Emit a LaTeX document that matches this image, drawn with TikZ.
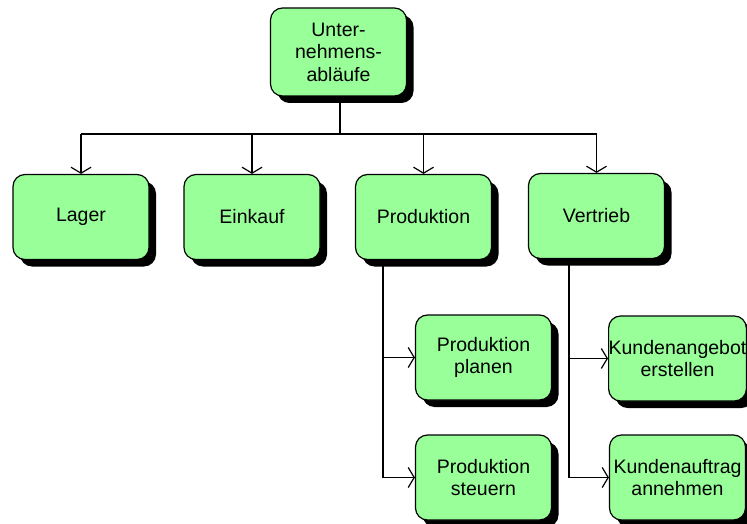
\documentclass[tikz,border=0pt]{standalone}
\usepackage{fontspec}
\setmainfont{Liberation Sans}
\usetikzlibrary{arrows.meta,shadows}

\definecolor{boxgreen}{HTML}{99FF99}

\tikzset{
  procbox/.style={
    draw=black, line width=1.2pt, fill=boxgreen, rounded corners=12pt,
    minimum width=136pt, minimum height=85pt, inner sep=0pt,
    align=center, font=\fontsize{19.5}{22.5}\selectfont,
    drop shadow={shadow xshift=7pt, shadow yshift=-7pt, fill=black, opacity=1}
  },
  link/.style={draw=black, line width=1.2pt},
  arrowlink/.style={link, -{Straight Barb[length=6pt,width=20pt,line width=1.2pt]}}
}

\begin{document}
\begin{tikzpicture}[x=1pt,y=-1pt]
  \useasboundingbox (0,0) rectangle (747,524);

  % root
  \node[procbox, minimum height=88pt] (root) at (338.5,52) {Unter-\\nehmens-\\abläufe};

  % first level
  \node[procbox] (lager)  at (81,217)  {Lager};
  \node[procbox] (ek)     at (252,217) {Einkauf};
  \node[procbox] (prod)   at (423.5,217) {Produktion};
  \node[procbox] (vt)     at (596.5,216) {Vertrieb};

  % second level
  \node[procbox] (pplan)  at (483.5,357.5) {Produktion\\planen};
  \node[procbox] (psteu)  at (483.5,477.5) {Produktion\\steuern};
  \node[procbox] (kang)   at (677.5,358.5) {Kundenangebot\\erstellen};
  \node[procbox] (kauf)   at (677.5,477.5) {Kundenauftrag\\annehmen};

  % tree from the root
  \coordinate (bus) at (340,134);
  \draw[link] (root.south -| bus) -- (bus);
  \draw[link] (lager.north |- bus) -- (vt.north |- bus);
  \foreach \n in {lager, ek, prod, vt}
    \draw[arrowlink] (\n.north |- bus) -- (\n.north);

  % Produktion branch
  \coordinate (pline) at (383,0);
  \draw[link] (prod.south -| pline) -- (psteu.west -| pline);
  \draw[arrowlink] (pplan.west -| pline) -- (pplan.west);
  \draw[arrowlink] (psteu.west -| pline) -- (psteu.west);

  % Vertrieb branch
  \coordinate (vline) at (569,0);
  \draw[link] (vt.south -| vline) -- (kauf.west -| vline);
  \draw[arrowlink] (kang.west -| vline) -- (kang.west);
  \draw[arrowlink] (kauf.west -| vline) -- (kauf.west);
\end{tikzpicture}
\end{document}
